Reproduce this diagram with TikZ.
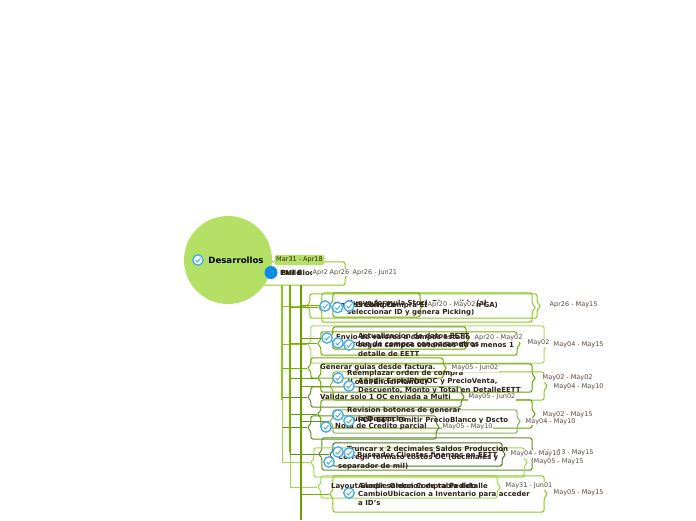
\documentclass[tikz,border=0pt]{standalone}
\usepackage{fontspec}
\setmainfont{DejaVu Sans}
\usetikzlibrary{fit}
\definecolor{rootgreen}{HTML}{B4E165}
\definecolor{limeA}{HTML}{8CC81E}
\definecolor{limeB}{HTML}{74B000}
\definecolor{limeC}{HTML}{66A000}
\definecolor{limeD}{HTML}{5F8F1E}
\definecolor{paleA}{HTML}{A0D846}
\definecolor{inkA}{HTML}{2E2016}
\definecolor{inkB}{HTML}{5A4A3E}
\definecolor{tickblue}{HTML}{3FA9F0}
\definecolor{hitoblue}{HTML}{0A8CE6}
\tikzset{
    rim/.style={line width=1pt},
    topictext/.style={anchor=west,inner sep=0pt,align=left,text=inkA,font=\fontsize{7}{9}\selectfont\bfseries},
    datetext/.style={anchor=west,inner sep=0.5pt,fill=white,text=inkB,font=\fontsize{6.5}{8}\selectfont},
    tick/.pic={
        \draw [color=tickblue,fill=white,line width=1.3pt] (0,0) circle(5.2pt);
        \draw [color=tickblue,line width=0.9pt] (-2.4pt,-0.2pt) -- (-0.6pt,-2pt) -- (2.6pt,1.8pt);
    }
}
% bracket round one topic, points west and east
\newcommand{\topicbox}[6]{
    \coordinate (#1nw) at (#2,#3);
    \coordinate (#1se) at (#4,#5);
    \node [fit=(#1nw)(#1se),inner sep=0pt] (#1) {};
    \draw [#6,rounded corners=2.5pt] (#1.west) -- ([xshift=4pt,yshift=3pt]#1.west)
        -- ([xshift=4pt]#1.north west) -- ([xshift=-4pt]#1.north east)
        -- ([xshift=-4pt,yshift=3pt]#1.east) -- (#1.east)
        -- ([xshift=-4pt,yshift=-3pt]#1.east) -- ([xshift=-4pt]#1.south east)
        -- ([xshift=4pt]#1.south west) -- ([xshift=4pt,yshift=-3pt]#1.west) -- cycle;
}
\begin{document}
\begin{tikzpicture}[x=1pt,y=-1pt]
    \useasboundingbox (0,0) rectangle (696,520);
    \coordinate (trunkL) at (282,285);
    \coordinate (trunkM) at (290,285);
    \coordinate (trunkR) at (301,285);
    \coordinate (trunkEnd) at (301,520);

    \topicbox{hito}{250}{262}{349}{285}{limeA,rim}

    \topicbox{stockA}{306}{294}{541}{318}{limeA,rim}
    \topicbox{stockB}{318}{293}{536}{322}{limeA,rim}
    \topicbox{stockC}{329}{293}{424}{317}{limeB,rim}
    \topicbox{eettA}{307}{326}{548}{363}{limeA!70,rim}
    \topicbox{eettB}{317}{332}{521}{355}{limeB,rim}
    \topicbox{eettC}{329}{327}{470}{349}{limeC,rim}
    \topicbox{guias}{307}{358}{447}{378}{limeB,rim}
    \topicbox{compra}{317}{364}{536}{392}{limeC,rim}
    \topicbox{precio}{329}{372}{548}{400}{limeA,rim}
    \topicbox{validar}{307}{387}{465}{407}{limeD,rim}
    \topicbox{botones}{317}{400}{536}{428}{limeC,rim}
    \topicbox{pdf}{329}{410}{521}{433}{limeD!70,rim}
    \topicbox{credito}{307}{416}{440}{439}{limeD,rim}
    \topicbox{saldos}{318}{438}{536}{470}{limeD,rim}
    \topicbox{clientes}{329}{443}{506}{466}{limeD!80!black,rim}
    \topicbox{formato}{310}{448}{528}{477}{paleA,rim}
    \topicbox{layout}{317}{476}{501}{498}{paleA,rim}
    \topicbox{cambio}{329}{476}{548}{512}{limeA,rim}

    % connectors from the three trunks
    \draw [limeA,rim] (trunkL) |- (stockA.west);
    \draw [limeA,rim] (trunkL) |- (eettA.west);
    \draw [limeB,rim] (trunkL) |- (guias.west);
    \draw [limeD,rim] (trunkL) |- (validar.west);
    \draw [limeD,rim] (trunkL) |- (credito.west);
    \draw [paleA,rim] (trunkL) |- (formato.west);
    \draw [paleA,rim] (trunkM) |- (layout.west);
    \draw [limeB,rim] (trunkM) |- (stockB.west);
    \draw [limeB,rim] (trunkM) |- (eettB.west);
    \draw [limeC,rim] (trunkM) |- (compra.west);
    \draw [limeC,rim] (trunkM) |- (botones.west);
    \draw [limeD,rim] (trunkM) |- (saldos.west);
    \draw [limeB,rim] (trunkR) |- (stockC.west);
    \draw [limeC,rim] (trunkR) |- (eettC.west);
    \draw [limeC,rim] (trunkR) |- (precio.west);
    \draw [limeD,rim] (trunkR) |- (pdf.west);
    \draw [limeD,rim] (trunkR) |- (clientes.west);
    \draw [limeB,rim] (trunkR) |- (cambio.west);
    \draw [limeC,line width=1.3pt] (trunkR) -- (trunkEnd);
    \draw [limeB,line width=1.7pt] (trunkM) -- (290,452);
    \draw [limeA,line width=1.2pt] (trunkL) -- (282,400);

    \node [circle,fill=rootgreen,minimum size=88pt,inner sep=0pt,font=\fontsize{8.6}{10}\selectfont\bfseries] (root) at (228,260) {\hspace{16pt}Desarrollos};
    \pic at (198,260) {tick};
    \node [fill=rootgreen,rounded corners=1.5pt,inner xsep=1.5pt,inner ysep=2pt,text=inkA,font=\fontsize{6.5}{8}\selectfont] (rango) at (299.5,260) {Mar31 - Apr18};
    \draw [fill=hitoblue,draw=none] (271,272.5) circle(6.5pt);

    \node [topictext] (hitoA) at (280,273) {PMI Blod};
    \node [topictext] (hitoB) at (281,273) {Build};

    \node [topictext] (stockAt) at (334,306) {Nota Credito Compra EE para ver con GA)};
    \node [topictext] (stockBt) at (347,308.5) {Nueva formula Stock Disponible (al\\seleccionar ID y genera Picking)};
    \node [topictext] (stockCt) at (334,306) {Grupos Compra};
    \node [topictext] (eettAt) at (336,338) {Envio de valores a campos estado};
    \node [topictext] (eettBt) at (346,345) {Orden de compra con parametros};
    \node [topictext] (eettCt) at (358,345) {Actualizacion de datos EETT\\segun campos obtenidos de al menos 1\\detalle de EETT};
    \node [topictext] (guiast) at (320,368) {Generar guias desde factura.};
    \node [topictext] (comprat) at (347,377.5) {Reemplazar orden de compra\\(Local/EnciclPlanOC)};
    \node [topictext] (preciot) at (358,386) {Añadir EnciclPlanOC y PrecioVenta,\\Descuento, Monto y Total en DetalleEETT};
    \node [topictext] (validart) at (320,397) {Validar solo 1 OC enviada a Multi};
    \node [topictext] (botonest) at (347,415) {Revision botones de generar\\Guia/Despacho};
    \node [topictext] (pdft) at (358,421) {PDF EETT Omitir PrecioBlanco y Dscto};
    \node [topictext] (creditot) at (335,427) {Nota de Credito parcial};
    \node [topictext] (saldost) at (347,449) {Truncar x 2 decimales Saldos Produccion};
    \node [topictext] (clientest) at (357,455) {Buscador Clientes finanzas en EETT};
    \node [topictext] (formatot) at (338,462.5) {Corregir formato costos OC (decimales y\\separador de mil)};
    \node [topictext] (layoutt) at (331,487) {Layout Simple Orden Compra Pedido};
    \node [topictext] (cambioA) at (358,486) {Añadir seleccion de tabla detalle};
    \node [topictext] (cambioB) at (358,498) {CambioUbicacion a Inventario para acceder\\a ID's};

    \pic at (325,306) {tick};
    \pic at (337.5,307.5) {tick};
    \pic at (349,306) {tick};
    \pic at (327,338) {tick};
    \pic at (338,343) {tick};
    \pic at (349,345) {tick};
    \pic at (338,378) {tick};
    \pic at (349,386) {tick};
    \pic at (338,415) {tick};
    \pic at (349,421) {tick};
    \pic at (326,427) {tick};
    \pic at (338,452) {tick};
    \pic at (349,453) {tick};
    \pic at (329,462) {tick};
    \pic at (349,493) {tick};

    \node [datetext] (d1) at (312,272.5) {Apr2};
    \node [datetext] (d2) at (329,272.5) {Apr26};
    \node [datetext] (d3) at (352,272.5) {Apr26 - Jun21};
    \node [datetext] (d4) at (427,305) {Apr20 - May02};
    \node [datetext] (d5) at (549,305) {Apr26 - May15};
    \node [datetext] (d6) at (474,338) {Apr20 - May02};
    \node [datetext] (d7) at (527,343) {May02};
    \node [datetext] (d8) at (553,345) {May04 - May15};
    \node [datetext] (d9) at (451,368) {May05 - Jun02};
    \node [datetext] (d10) at (542,378) {May02 - May02};
    \node [datetext] (d11) at (553,387) {May04 - May10};
    \node [datetext] (d12) at (468,397) {May05 - Jun02};
    \node [datetext] (d13) at (542,414.5) {May02 - May15};
    \node [datetext] (d14) at (525,421.5) {May04 - May10};
    \node [datetext] (d15) at (442,427) {May05 - May10};
    \node [datetext] (d16) at (543,453) {May03 - May15};
    \node [datetext] (d17) at (510,454) {May04 - May10};
    \node [datetext] (d18) at (533,462) {May05 - May15};
    \node [datetext] (d19) at (505,486) {May31 - Jun01};
    \node [datetext] (d20) at (553,492.5) {May05 - May15};
\end{tikzpicture}
\end{document}
